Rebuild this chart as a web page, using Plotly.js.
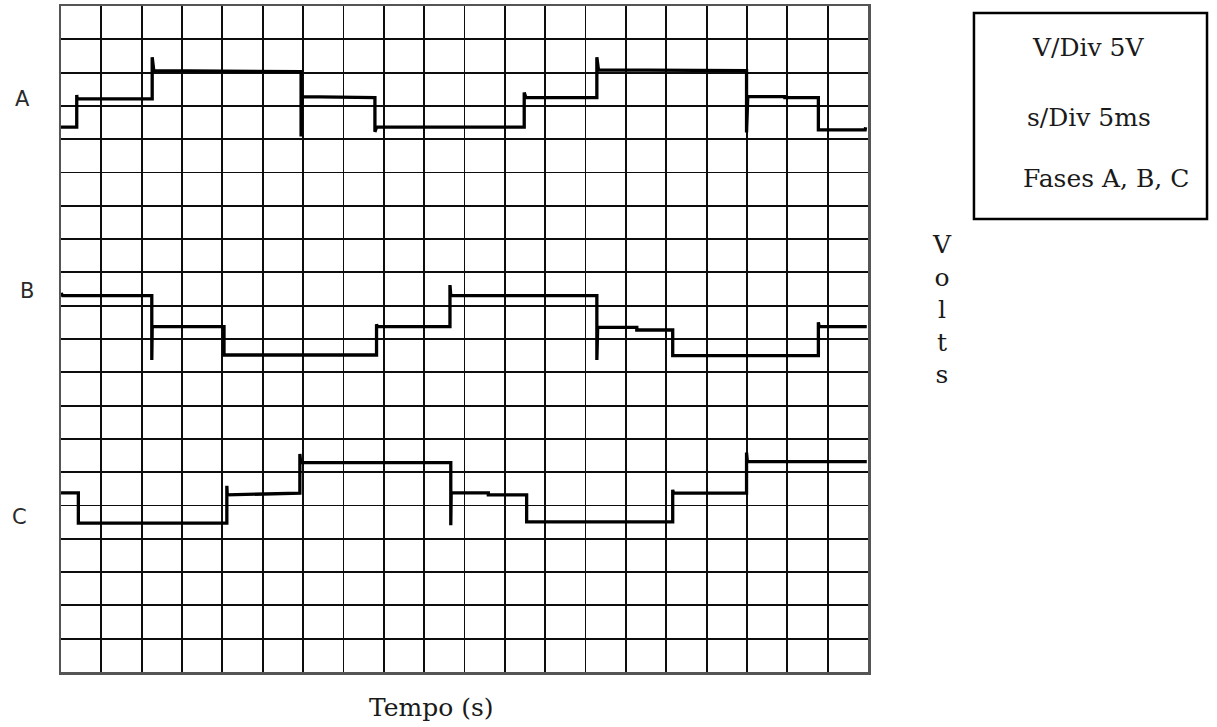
<!DOCTYPE html>
<html>
<head>
<meta charset="utf-8">
<script src="https://cdn.plot.ly/plotly-3.0.1.min.js"></script>
<style>
  html, body { margin: 0; padding: 0; background: #ffffff; }
  #chart { width: 1217px; height: 727px; }
</style>
</head>
<body>
<div id="chart"></div>
<script>
// Time in ms (5 ms/div, 20 div), voltage in V (5 V/div, 20 div)
const timeA = [0, 1.95, 1.95, 2.0, 11.3, 11.3, 11.5, 29.75, 29.75, 29.85, 38.9, 38.9, 39.1, 57.4, 57.4, 57.6, 66.4, 66.4, 66.6, 84.95, 84.95, 85.1, 89.7, 89.7, 93.85, 93.85, 94.0, 99.65, 99.7];
const voltA = [81.8, 81.8, 86.65, 86.05, 86.05, 92.3, 90.3, 90.15, 80.4, 86.4, 86.25, 81.1, 81.8, 81.8, 87.0, 86.25, 86.25, 92.3, 90.4, 90.3, 81.0, 86.4, 86.4, 86.25, 86.25, 81.4, 81.4, 81.4, 81.8];

const timeB = [0, 0.2, 11.25, 11.25, 11.3, 20.2, 20.2, 39.1, 39.1, 39.2, 48.2, 48.2, 48.3, 66.4, 66.4, 66.5, 71.35, 71.35, 75.8, 75.8, 93.85, 93.85, 93.95, 99.85];
const voltB = [56.9, 56.5, 56.5, 46.85, 51.85, 51.85, 47.6, 47.6, 52.2, 51.85, 51.85, 58.1, 56.5, 56.5, 46.85, 51.75, 51.75, 51.35, 51.35, 47.5, 47.5, 52.5, 51.85, 51.85];

const timeC = [0, 2.15, 2.15, 20.55, 20.55, 20.6, 29.6, 29.6, 29.7, 48.3, 48.3, 48.35, 52.95, 52.95, 57.7, 57.7, 75.8, 75.8, 75.9, 84.95, 84.95, 85.05, 99.85];
const voltC = [26.9, 26.9, 22.35, 22.35, 27.95, 26.6, 26.85, 32.75, 31.45, 31.45, 22.05, 26.9, 26.9, 26.6, 26.6, 22.55, 22.55, 27.35, 26.85, 26.85, 32.95, 31.6, 31.6];

const phaseNames = ['A', 'B', 'C'];
const infoLines = ['V/Div 5V', 's/Div 5ms', 'Fases A, B, C'];
const xTitle = 'Tempo (s)';
const yTitle = 'Volts';

const lineStyle = {color: '#000000', width: 3.3};
const traces = [
  {x: timeA, y: voltA, name: phaseNames[0]},
  {x: timeB, y: voltB, name: phaseNames[1]},
  {x: timeC, y: voltC, name: phaseNames[2]}
].map(t => Object.assign(t, {type: 'scatter', mode: 'lines', line: lineStyle, hoverinfo: 'skip'}));

const serif = 'DejaVu Serif, Liberation Serif, serif';
const sans = 'DejaVu Sans, Verdana, sans-serif';

const annotations = [
  {text: phaseNames[0], x: -0.048, y: 0.860},
  {text: phaseNames[1], x: -0.042, y: 0.572},
  {text: phaseNames[2], x: -0.052, y: 0.233}
].map(a => Object.assign(a, {xref: 'paper', yref: 'paper', showarrow: false,
  xanchor: 'center', yanchor: 'middle', font: {family: sans, size: 21, color: '#2a2a2a'}}));

annotations.push(
  {text: infoLines[0], x: 1.2726, y: 0.937, xanchor: 'center'},
  {text: infoLines[1], x: 1.2733, y: 0.833, xanchor: 'center'},
  {text: infoLines[2], x: 1.2955, y: 0.741, xanchor: 'center'},
  {text: xTitle, x: 0.4585, y: -0.054, xanchor: 'center'},
  {text: yTitle.split('').join('<br>'), x: 1.0917, y: 0.545, xanchor: 'center'}
);
for (let i = 3; i < annotations.length; i++) {
  Object.assign(annotations[i], {xref: 'paper', yref: 'paper', showarrow: false, yanchor: 'middle',
    font: {family: serif, size: 25, color: '#1a1a1a'}});
}

const axisCommon = {
  showgrid: true, gridcolor: '#0d0d0d', gridwidth: 1.9,
  zeroline: false, showticklabels: false, ticks: '',
  showline: true, mirror: true, linecolor: '#555555', linewidth: 2.5,
  fixedrange: true
};

const layout = {
  width: 1217, height: 727,
  margin: {l: 61, r: 349, t: 6, b: 55, pad: 0},
  paper_bgcolor: '#ffffff', plot_bgcolor: '#ffffff',
  showlegend: false,
  xaxis: Object.assign({range: [0, 100], dtick: 5, tick0: 0}, axisCommon),
  yaxis: Object.assign({range: [0, 100], dtick: 5, tick0: 0}, axisCommon),
  annotations: annotations,
  shapes: [{type: 'rect', xref: 'paper', yref: 'paper', x0: 1.1313, x1: 1.4201, y0: 0.6802, y1: 0.9895,
    line: {color: '#000000', width: 2.5}, fillcolor: 'rgba(0,0,0,0)'}]
};

Plotly.newPlot('chart', traces, layout, {staticPlot: true, displayModeBar: false});
</script>
</body>
</html>
